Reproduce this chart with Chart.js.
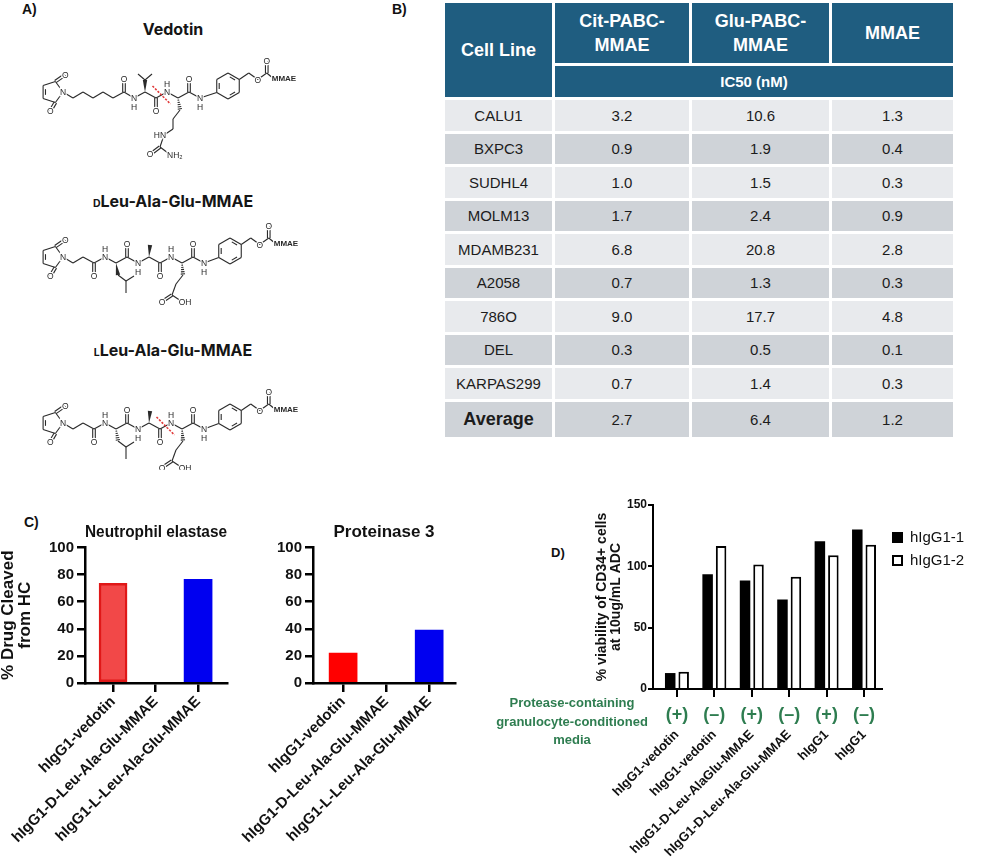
<!DOCTYPE html>
<html>
<head>
<meta charset="utf-8">
<script src="https://cdn.jsdelivr.net/npm/chart.js@4.4.1/dist/chart.umd.min.js"></script>
<style>
  body { margin: 0; width: 1000px; height: 867px; position: relative; overflow: hidden; background: #fff; font-family: "Liberation Sans", Arial, sans-serif; color: #111; }
  .abs { position: absolute; }
  .tag { font-weight: bold; font-size: 14px; }
  .molTitle { position: absolute; left: 23px; width: 300px; text-align: center; font-family: Inter, sans-serif; font-weight: 700; font-size: 16px; line-height: 20px; color: #151515; }
  .molTitle .sc { font-size: 10.5px; }
  #mol { will-change: transform; }
  #ic50 { position: absolute; left: 442px; top: 0; border-collapse: separate; border-spacing: 3px; }
  #ic50 th { background: #1f5d80; color: #fff; padding: 0; font-weight: bold; text-align: center; }
  #ic50 th.top { height: 60px; font-size: 18px; line-height: 24px; }
  #ic50 th.sub { height: 31px; font-size: 15px; }
  #headRow th:nth-child(1) { width: 107px; }
  #headRow th:nth-child(2) { width: 134px; }
  #headRow th:nth-child(3) { width: 137px; }
  #headRow th:nth-child(4) { width: 121px; }
  #ic50 td { height: 30.5px; padding: 0; text-align: center; font-size: 15px; color: #1c1c1c; }
  #ic50 tr.light td { background: #e8eaed; }
  #ic50 tr.dark td { background: #cfd3d8; }
  #ic50 tr.avg td { height: 35px; }
  #ic50 tr.avg td:first-child { font-weight: bold; font-size: 18px; }
  canvas { position: absolute; }
  #media { position: absolute; left: 472px; top: 694px; width: 200px; text-align: center; color: #2e7d50; font-weight: bold; font-size: 13px; line-height: 18.5px; }
</style>
</head>
<body>
<div class="abs tag" style="left:22px;top:1px">A)</div>
<div class="abs tag" style="left:392px;top:1px">B)</div>
<div class="abs tag" style="left:24px;top:514px">C)</div>
<div class="abs tag" style="left:551px;top:545px;font-size:13px">D)</div>

<div class="molTitle" style="top:19px">Vedotin</div>
<div class="molTitle" style="top:191px"><span class="sc">D</span>Leu-Ala-Glu-MMAE</div>
<div class="molTitle" style="top:340px"><span class="sc">L</span>Leu-Ala-Glu-MMAE</div>
<svg id="mol" class="abs" style="left:0;top:0" width="440" height="470"></svg>

<table id="ic50">
  <thead>
    <tr id="headRow"><th class="top" rowspan="2">Cell Line</th></tr>
    <tr><th class="sub" colspan="3">IC50 (nM)</th></tr>
  </thead>
  <tbody id="ic50Body"></tbody>
</table>

<canvas id="elastase" width="235" height="350" style="left:0;top:517px;width:235px;height:350px"></canvas>
<canvas id="proteinase" width="238" height="350" style="left:225px;top:517px;width:238px;height:350px"></canvas>
<canvas id="viability" width="405" height="377" style="left:595px;top:490px;width:405px;height:377px"></canvas>
<div id="media">Protease-containing<br>granulocyte-conditioned<br>media</div>

<script>
// ---------- panel B data (IC50, nM) ----------
const cellLines = ['CALU1', 'BXPC3', 'SUDHL4', 'MOLM13', 'MDAMB231', 'A2058', '786O', 'DEL', 'KARPAS299', 'Average'];
const drugHeaders = [['Cit-PABC-', 'MMAE'], ['Glu-PABC-', 'MMAE'], ['MMAE']];
const citPabcIC50 = [3.2, 0.9, 1.0, 1.7, 6.8, 0.7, 9.0, 0.3, 0.7, 2.7];
const gluPabcIC50 = [10.6, 1.9, 1.5, 2.4, 20.8, 1.3, 17.7, 0.5, 1.4, 6.4];
const mmaeIC50 = [1.3, 0.4, 0.3, 0.9, 2.8, 0.3, 4.8, 0.1, 0.3, 1.2];

// ---------- panel C data (% drug cleaved from HC) ----------
const cleaveLabels = ['hIgG1-vedotin', 'hIgG1-D-Leu-Ala-Glu-MMAE', 'hIgG1-L-Leu-Ala-Glu-MMAE'];
const elastaseValues = [73.5, 0, 76.5];
const proteinase3Values = [22, 0, 39];
const cleaveTicks = [0, 20, 40, 60, 80, 100];

// ---------- panel D data (% viability of CD34+ cells) ----------
const viabilityLabels = ['hIgG1-vedotin', 'hIgG1-vedotin', 'hIgG1-D-Leu-AlaGlu-MMAE', 'hIgG1-D-Leu-Ala-Glu-MMAE', 'hIgG1', 'hIgG1'];
const mediaSigns = ['(+)', '(\u2013)', '(+)', '(\u2013)', '(+)', '(\u2013)'];
const hIgG1_1 = [13, 93.5, 88.5, 73, 120.5, 130];
const hIgG1_2 = [14, 116.5, 101.5, 91.5, 109, 117.5];
const viabilityTicks = [0, 50, 100, 150];

// ---------- table ----------
const headRow = document.getElementById('headRow');
drugHeaders.forEach(lines => {
  const th = document.createElement('th');
  th.className = 'top';
  th.innerHTML = lines.join('<br>');
  headRow.appendChild(th);
});
const ic50Body = document.getElementById('ic50Body');
cellLines.forEach((name, i) => {
  const tr = document.createElement('tr');
  tr.className = (i % 2 ? 'dark' : 'light') + (name === 'Average' ? ' avg' : '');
  [name, citPabcIC50[i].toFixed(1), gluPabcIC50[i].toFixed(1), mmaeIC50[i].toFixed(1)].forEach(t => {
    const td = document.createElement('td');
    td.textContent = t;
    tr.appendChild(td);
  });
  ic50Body.appendChild(tr);
});

// ---------- structures (plain svg line drawing) ----------
const NS = 'http://www.w3.org/2000/svg';
const molSvg = document.getElementById('mol');
const INK = '#2a2a2a';
const atomLabels = [];

function svg(tag, attrs, text) {
  const e = document.createElementNS(NS, tag);
  for (const k in attrs) e.setAttribute(k, attrs[k]);
  if (text) e.textContent = text;
  molSvg.appendChild(e);
  return e;
}
function bond(a, b) { svg('line', {x1: a[0], y1: a[1], x2: b[0], y2: b[1], stroke: INK, 'stroke-width': 1.1}); }
function normal(a, b, d) {
  const dx = b[0] - a[0], dy = b[1] - a[1], len = Math.hypot(dx, dy);
  return [-dy / len * d, dx / len * d];
}
function doubleBond(a, b) {
  const [nx, ny] = normal(a, b, 1.3);
  bond([a[0] + nx, a[1] + ny], [b[0] + nx, b[1] + ny]);
  bond([a[0] - nx, a[1] - ny], [b[0] - nx, b[1] - ny]);
}
function wedge(a, b) {
  const [nx, ny] = normal(a, b, 2.2);
  svg('polygon', {points: `${a[0]},${a[1]} ${b[0] + nx},${b[1] + ny} ${b[0] - nx},${b[1] - ny}`, fill: INK});
}
function hashed(a, b) {
  for (let k = 1; k <= 5; k++) {
    const t = k / 5.5;
    const p = [a[0] + (b[0] - a[0]) * t, a[1] + (b[1] - a[1]) * t];
    const [nx, ny] = normal(a, b, 0.5 + 1.8 * t);
    bond([p[0] + nx, p[1] + ny], [p[0] - nx, p[1] - ny]);
  }
}
function chain(pts) { for (let k = 1; k < pts.length; k++) bond(pts[k - 1], pts[k]); }
function polygonPts(c, r, n, startDeg) {
  const v = [];
  for (let k = 0; k < n; k++) {
    const a = (startDeg + k * 360 / n) * Math.PI / 180;
    v.push([c[0] + r * Math.cos(a), c[1] + r * Math.sin(a)]);
  }
  return v;
}
function ringBonds(v, c, inner) {
  v.forEach((p, k) => bond(p, v[(k + 1) % v.length]));
  inner.forEach(k => {
    const a = v[k], b = v[(k + 1) % v.length];
    const pa = [a[0] + (b[0] - a[0]) * 0.2, a[1] + (b[1] - a[1]) * 0.2];
    const pb = [a[0] + (b[0] - a[0]) * 0.8, a[1] + (b[1] - a[1]) * 0.8];
    const toC = p => { const dx = c[0] - p[0], dy = c[1] - p[1], l = Math.hypot(dx, dy); return [p[0] + dx / l * 2.6, p[1] + dy / l * 2.6]; };
    bond(toC(pa), toC(pb));
  });
}
function label(p, text, opts) { atomLabels.push([p, text, opts || {}]); }
function flushLabels() {
  atomLabels.forEach(([p, text, o]) => {
    const size = o.size || 8.5;
    svg('text', {x: p[0], y: p[1] + size * 0.36, 'font-size': size, 'font-weight': o.bold ? 'bold' : 'normal',
      'text-anchor': o.anchor || 'middle', fill: INK, stroke: '#fff', 'stroke-width': 2.4, 'paint-order': 'stroke',
      'font-family': 'Liberation Sans, Arial, sans-serif'}, text);
  });
}
function cut(a, b) {
  svg('line', {x1: a[0], y1: a[1], x2: b[0], y2: b[1], stroke: '#e03a3a', 'stroke-width': 1.6, 'stroke-dasharray': '2.2 1.4'});
}
function carbonyl(c, dir) {
  const o = [c[0], c[1] + dir * 12];
  doubleBond(c, o);
  label([o[0], o[1] + dir], 'O');
}
function nh(p, dir) { label(p, 'N'); label([p[0], p[1] + dir * 8.5], 'H'); }

function maleimide(c) {
  const v = polygonPts(c, 11, 5, 0);
  ringBonds(v, c, [2]);
  const oTop = [v[4][0] + 10, v[4][1] - 7], oBot = [v[1][0] - 5, v[1][1] + 8.5];
  doubleBond(v[4], oTop);
  doubleBond(v[1], oBot);
  label(oTop, 'O');
  label(oBot, 'O');
  label(v[0], 'N');
  return v[0];
}
function tail(n, c) {
  const v = polygonPts(c, 13, 6, -90);
  ringBonds(v, c, [0, 2, 4]);
  bond(n, v[4]);
  const ch2 = [v[1][0] + 9.5, v[1][1] - 6.5], o = [ch2[0] + 9, ch2[1] + 6.5], cc = [o[0] + 9, o[1] - 6.5];
  chain([v[1], ch2, o, cc]);
  const oc = [cc[0], cc[1] - 12];
  doubleBond(cc, oc);
  label(oc, 'O');
  label(o, 'O');
  const m = [cc[0] + 6, cc[1] + 5];
  bond(cc, m);
  label([m[0] - 1, m[1]], 'MMAE', {anchor: 'start', bold: true, size: 8});
}

function vedotin() {
  const hi = 92, lo = 98;
  const n1 = maleimide([52, hi]);
  const c1 = [124, hi];
  chain([n1, [73, lo], [83, hi], [93, lo], [103, hi], [113, lo], c1]);
  carbonyl(c1, -1);
  const n2 = [134, lo]; bond(c1, n2); nh(n2, 1);
  const va = [145, hi]; bond(n2, va);
  const ip = [145, hi - 12]; wedge(va, ip);
  bond(ip, [138, ip[1] - 6]); bond(ip, [152, ip[1] - 6]);
  const vc = [156, lo]; bond(va, vc); carbonyl(vc, 1);
  const n3 = [167, hi]; bond(vc, n3); nh(n3, -1);
  const ca = [178, lo]; bond(n3, ca);
  const s1 = [180, lo + 12]; hashed(ca, s1);
  const un = [164, lo + 37];
  chain([s1, [173, lo + 21], [173, lo + 31], un]);
  label([un[0] - 4, un[1]], 'HN');
  const uc = [160, lo + 49]; bond(un, uc);
  const uo = [152, uc[1] + 6]; doubleBond(uc, uo); label([uo[0] - 2, uo[1] + 1], 'O');
  const un2 = [168, uc[1] + 6]; bond(uc, un2); label([un2[0] - 1, un2[1] + 2], 'NH\u2082', {anchor: 'start'});
  const cc = [189, hi]; bond(ca, cc); carbonyl(cc, -1);
  const n4 = [200, lo]; bond(cc, n4); nh(n4, 1);
  tail(n4, [228, 86]);
  cut([152.5, 86], [170.5, 104]);
}

function leuAlaGlu(dy, leuHashed, cleaved) {
  const hi = 257 + dy, lo = 263 + dy;
  const n1 = maleimide([52, hi]);
  const c1 = [94, lo];
  chain([n1, [73, lo], [83, hi], c1]);
  carbonyl(c1, 1);
  const n2 = [105, hi]; bond(c1, n2); nh(n2, -1);
  const la = [116, lo]; bond(n2, la);
  const l1 = [118, lo + 12];
  if (leuHashed) hashed(la, l1); else wedge(la, l1);
  const l2 = [126, lo + 18];
  bond(l1, l2); bond(l2, [126, lo + 30]); bond(l2, [134, lo + 13]);
  const lc = [127, hi]; bond(la, lc); carbonyl(lc, -1);
  const n3 = [138, lo]; bond(lc, n3); nh(n3, 1);
  const aa = [149, hi]; bond(n3, aa); wedge(aa, [150, hi - 12]);
  const ac = [160, lo]; bond(aa, ac); carbonyl(ac, 1);
  const n4 = [171, hi]; bond(ac, n4); nh(n4, -1);
  const ga = [182, lo]; bond(n4, ga);
  const g1 = [183, lo + 12]; hashed(ga, g1);
  const gc = [172, lo + 32];
  chain([g1, [176, lo + 21], gc]);
  const go = [163, lo + 38]; doubleBond(gc, go); label([go[0] - 1, go[1] + 1], 'O');
  const gh = [181, lo + 38]; bond(gc, gh); label([gh[0] + 4, gh[1] + 1], 'OH');
  const gcar = [193, hi]; bond(ga, gcar); carbonyl(gcar, -1);
  const n5 = [204, lo]; bond(gcar, n5); nh(n5, 1);
  tail(n5, [230, 251 + dy]);
  if (cleaved) cut([156.5, 251 + dy], [174.5, 269 + dy]);
}

vedotin();
leuAlaGlu(0, false, false);
leuAlaGlu(166, true, true);
flushLabels();

// ---------- charts ----------
Chart.defaults.font.family = '"Liberation Sans", Arial, sans-serif';
Chart.defaults.color = '#111';

//stops rotated tick labels from pushing the plot area inwards
function noSidePadding(s) { s.paddingLeft = 0; s.paddingRight = 0; }

//bar chart of % drug cleaved for one protease
function cleaveChart(canvasId, title, values, fills, edges, edgeWidths, xRange, yWidth, yTitle) {
  return new Chart(document.getElementById(canvasId), {
    type: 'bar',
    data: {
      datasets: [{
        data: values.map((v, i) => ({x: i, y: v})),
        backgroundColor: fills,
        borderColor: edges,
        borderWidth: edgeWidths,
        borderSkipped: false,
        barThickness: 28
      }]
    },
    options: {
      responsive: false,
      animation: false,
      events: [],
      layout: {padding: {right: 8}},
      plugins: {
        legend: {display: false},
        tooltip: {enabled: false},
        title: {display: true, text: title, fullSize: false, color: '#111', font: {size: 17, weight: 'bold'}, padding: {top: 5, bottom: 5}}
      },
      scales: {
        x: {
          type: 'linear', offset: false, min: xRange[0], max: xRange[1],
          afterBuildTicks: s => { s.ticks = cleaveLabels.map((_, i) => ({value: i})); },
          afterFit: s => { s.height = 184; noSidePadding(s); },
          border: {color: '#000', width: 2.5},
          grid: {offset: false, drawOnChartArea: false, color: '#000', lineWidth: 2.5, tickLength: 9},
          ticks: {autoSkip: false, minRotation: 45, maxRotation: 45, padding: 1, color: '#111',
            font: {size: 15, weight: 'bold'}, callback: v => cleaveLabels[v]}
        },
        y: {
          min: 0, max: 100,
          afterBuildTicks: s => { s.ticks = cleaveTicks.map(v => ({value: v})); },
          afterFit: s => { s.width = yWidth; },
          border: {color: '#000', width: 2.5},
          grid: {drawOnChartArea: false, color: '#000', lineWidth: 2.5, tickLength: 8},
          ticks: {padding: 3, color: '#111', font: {size: 15, weight: 'bold'}},
          title: {display: !!yTitle, text: yTitle || '', color: '#111', font: {size: 17, weight: 'bold', lineHeight: 1}, padding: {top: 0, bottom: 0}}
        }
      }
    }
  });
}

cleaveChart('elastase', 'Neutrophil elastase', elastaseValues,
  ['#f24848', 'rgba(0,0,0,0)', '#0000f0'], ['#e01818', 'rgba(0,0,0,0)', '#0000f0'], [2.5, 0, 0],
  [-0.66, 2.68], 85, ['% Drug Cleaved', 'from HC']);
cleaveChart('proteinase', 'Proteinase 3', proteinase3Values,
  ['#ff0000', 'rgba(0,0,0,0)', '#0000f0'], ['#ff0000', 'rgba(0,0,0,0)', '#0000f0'], [0, 0, 0],
  [-0.7, 2.6], 88, null);

//writes the green (+)/(-) media row under each category tick
const mediaSignsPlugin = {
  id: 'mediaSigns',
  afterDraw(chart) {
    const {ctx, chartArea, scales} = chart;
    ctx.save();
    ctx.font = 'bold 18px "Liberation Sans", Arial, sans-serif';
    ctx.fillStyle = '#2e7d50';
    ctx.textAlign = 'center';
    ctx.textBaseline = 'middle';
    mediaSigns.forEach((s, i) => ctx.fillText(s, scales.x.getPixelForValue(i), chartArea.bottom + 26));
    ctx.restore();
  }
};

//square legend to the right of the plot area
const legendBoxesPlugin = {
  id: 'legendBoxes',
  afterDraw(chart) {
    const {ctx, chartArea} = chart;
    ctx.save();
    chart.data.datasets.forEach((ds, i) => {
      const x = chartArea.right + 10, y = chartArea.top + 27 + i * 23;
      ctx.fillStyle = ds.backgroundColor;
      ctx.fillRect(x, y, 11, 11);
      ctx.lineWidth = 2;
      ctx.strokeStyle = '#000';
      ctx.strokeRect(x + 1, y + 1, 9, 9);
      ctx.fillStyle = '#111';
      ctx.font = '15px "Liberation Sans", Arial, sans-serif';
      ctx.textBaseline = 'middle';
      ctx.fillText(ds.label, x + 18, y + 5.5);
    });
    ctx.restore();
  }
};

new Chart(document.getElementById('viability'), {
  type: 'bar',
  data: {
    datasets: [
      {label: 'hIgG1-1', data: hIgG1_1.map((v, i) => ({x: i, y: v})), backgroundColor: '#000', borderColor: '#000', borderWidth: 0},
      {label: 'hIgG1-2', data: hIgG1_2.map((v, i) => ({x: i, y: v})), backgroundColor: '#fff', borderColor: '#000', borderWidth: 2}
    ]
  },
  options: {
    responsive: false,
    animation: false,
    events: [],
    datasets: {bar: {categoryPercentage: 0.72, barPercentage: 0.78}},
    layout: {padding: {top: 15, right: 118}},
    plugins: {legend: {display: false}, tooltip: {enabled: false}},
    scales: {
      x: {
        type: 'linear', offset: false, min: -0.64, max: 5.48,
        afterBuildTicks: s => { s.ticks = viabilityLabels.map((_, i) => ({value: i})); },
        afterFit: s => { s.height = 178; noSidePadding(s); },
        border: {color: '#000', width: 2},
        grid: {offset: false, drawOnChartArea: false, color: '#000', lineWidth: 2, tickLength: 8},
        ticks: {autoSkip: false, minRotation: 45, maxRotation: 45, padding: 30, color: '#111',
          font: {size: 13, weight: 'bold'}, callback: v => viabilityLabels[v]}
      },
      y: {
        min: 0, max: 150,
        afterBuildTicks: s => { s.ticks = viabilityTicks.map(v => ({value: v})); },
        afterFit: s => { s.width = 58; },
        border: {color: '#000', width: 2},
        grid: {drawOnChartArea: false, color: '#000', lineWidth: 2, tickLength: 5},
        ticks: {padding: 1, color: '#111', font: {size: 12, weight: 'bold'}},
        title: {display: true, text: ['% viability of CD34+ cells', 'at 10ug/mL ADC'], color: '#111',
          font: {size: 14, weight: 'bold', lineHeight: 1}, padding: {top: 0, bottom: 0}}
      }
    }
  },
  plugins: [mediaSignsPlugin, legendBoxesPlugin]
});
</script>
</body>
</html>
